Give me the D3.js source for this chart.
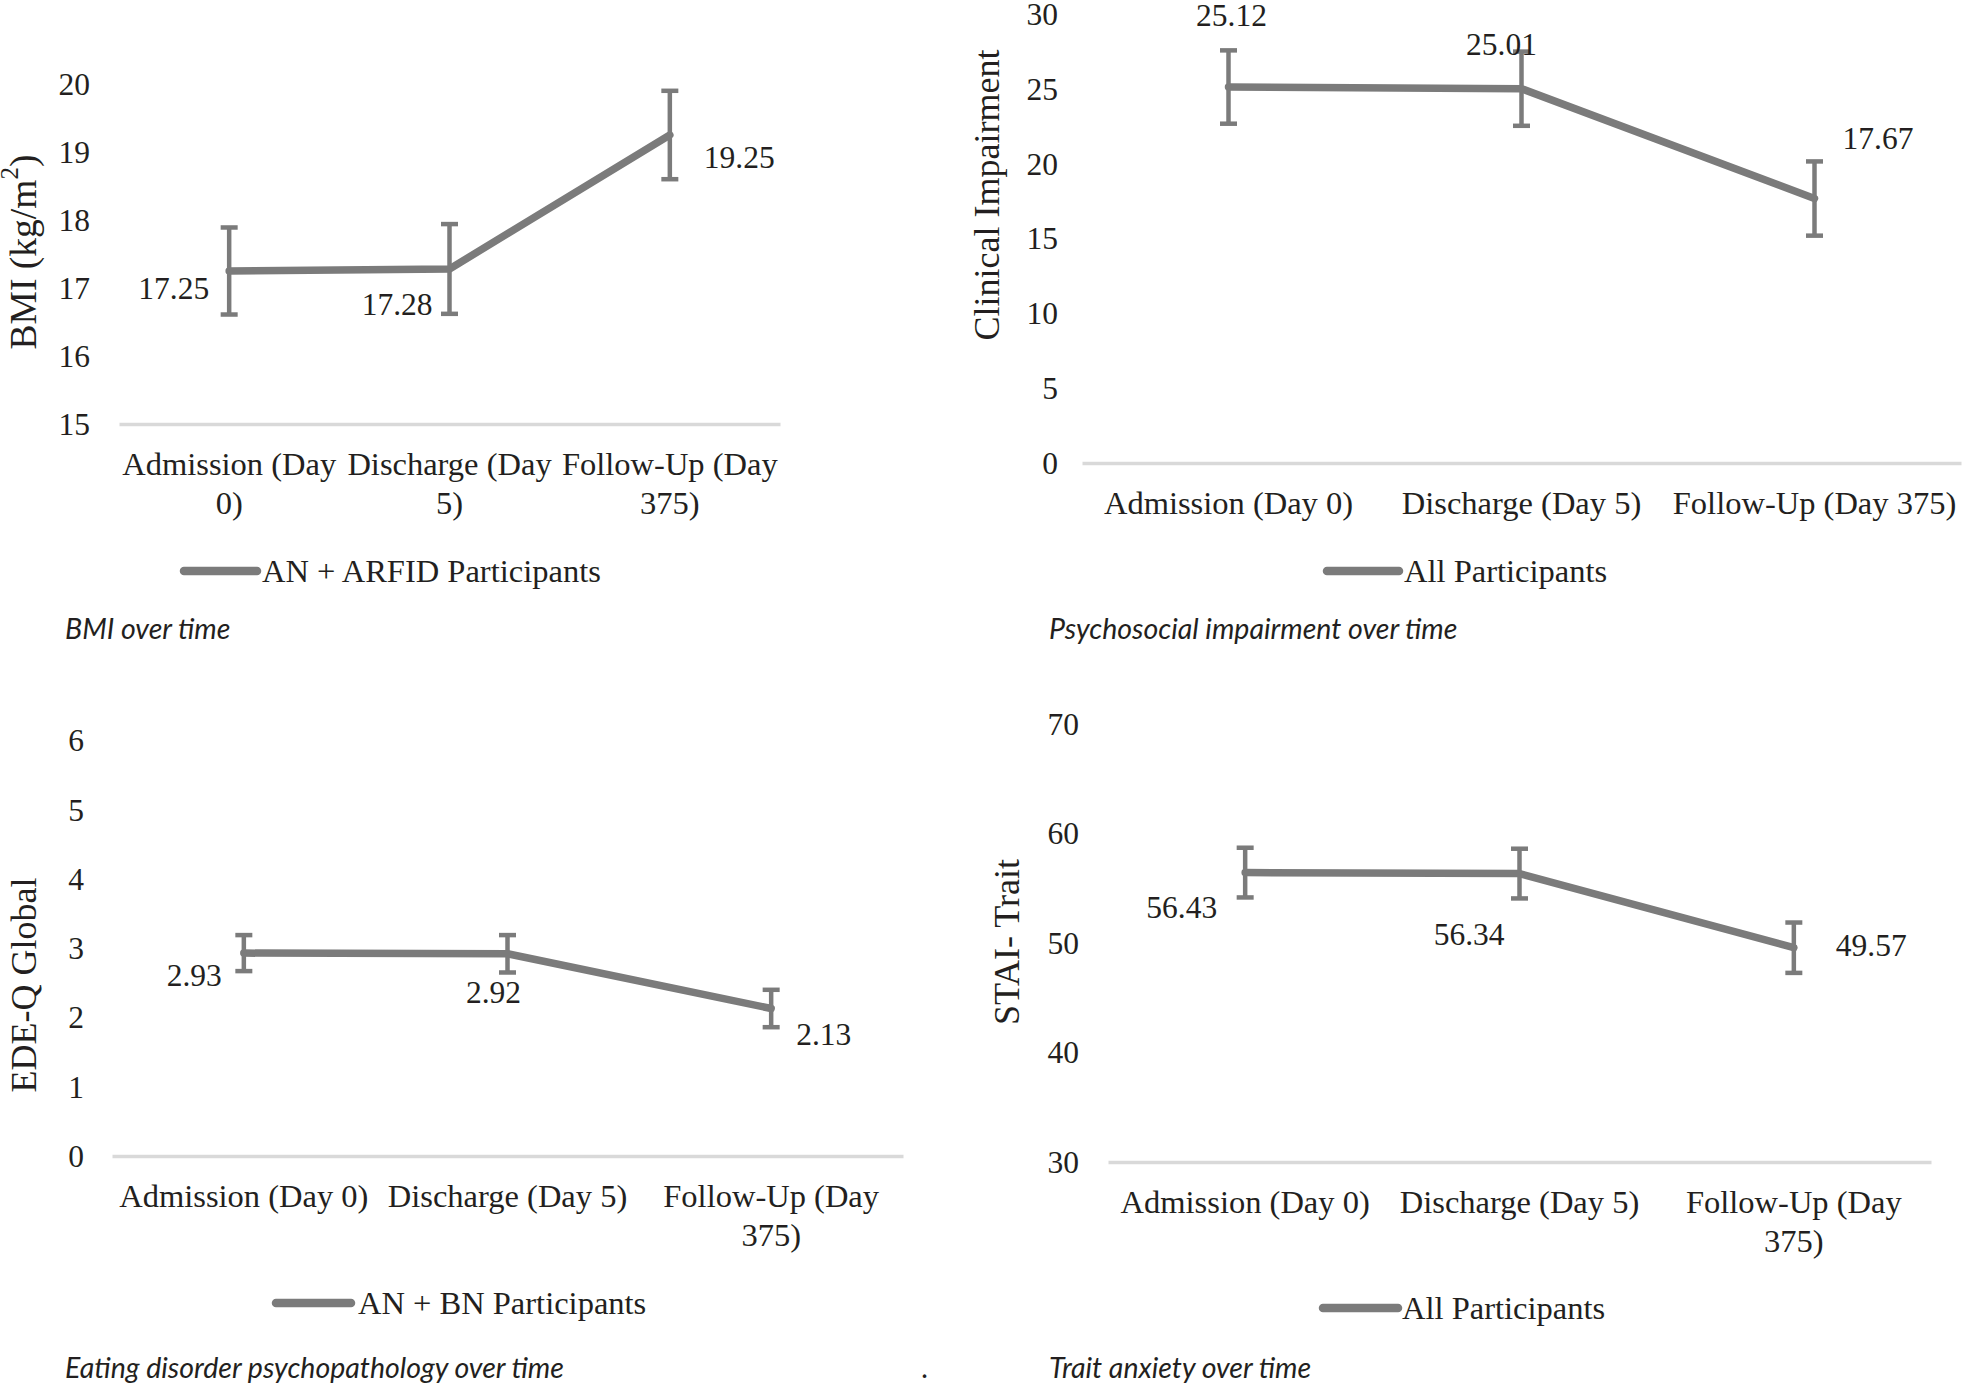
<!DOCTYPE html>
<html>
<head>
<meta charset="utf-8">
<script src="https://cdn.jsdelivr.net/npm/d3@7"></script>
<style>
  html, body { margin: 0; padding: 0; background: #ffffff; }
  svg { display: block; }
</style>
</head>
<body>
<svg id="chart" width="1968" height="1388"></svg>
<script>
// ---------------- DATA ----------------
const categories = ["Admission (Day 0)", "Discharge (Day 5)", "Follow-Up (Day 375)"];

const bmiValues = [17.25, 17.28, 19.25];
const bmiErrors = [0.64, 0.66, 0.65];
const bmiTicks = [15, 16, 17, 18, 19, 20];

const impairmentValues = [25.12, 25.01, 17.67];
const impairmentErrors = [2.45, 2.48, 2.48];
const impairmentTicks = [0, 5, 10, 15, 20, 25, 30];

const edeqValues = [2.93, 2.92, 2.13];
const edeqErrors = [0.26, 0.27, 0.27];
const edeqTicks = [0, 1, 2, 3, 4, 5, 6];

const staiValues = [56.43, 56.34, 49.57];
const staiErrors = [2.27, 2.27, 2.30];
const staiTicks = [30, 40, 50, 60, 70];

const yTitles = ["BMI (kg/m", "Clinical Impairment", "EDE-Q Global", "STAI- Trait"];
const legendLabels = ["AN + ARFID Participants", "All Participants", "AN + BN Participants", "All Participants"];
const captions = ["BMI over time", "Psychosocial impairment over time", "Eating disorder psychopathology over time", "Trait anxiety over time"];

// ---------------- LAYOUT ----------------
const layouts = [
  { box: {x0: 119, x1: 780, top: 84, bottom: 424}, tickRight: 90, title: [23, 252],
    legend: {x0: 184, x1: 257, y: 571, tx: 262}, caption: [65, 629],
    labels: [{a: "end", dx: -20, dy: 18}, {a: "end", dx: -17, dy: 36}, {a: "start", dx: 34, dy: 23}] },
  { box: {x0: 1082, x1: 1961, top: 14, bottom: 463}, tickRight: 1058, title: [987, 195],
    legend: {x0: 1327, x1: 1399, y: 571, tx: 1404}, caption: [1049, 629],
    labels: [{a: "middle", dx: 3, dy: -71}, {a: "middle", dx: -20, dy: -44}, {a: "start", dx: 28, dy: -60}] },
  { box: {x0: 112, x1: 903, top: 740.5, bottom: 1156}, tickRight: 84, title: [24, 985],
    legend: {x0: 276, x1: 351, y: 1303, tx: 358}, caption: [65, 1368],
    labels: [{a: "end", dx: -22, dy: 23}, {a: "middle", dx: -14, dy: 39}, {a: "start", dx: 25, dy: 26}] },
  { box: {x0: 1108, x1: 1931, top: 724, bottom: 1162}, tickRight: 1079, title: [1007, 942],
    legend: {x0: 1323, x1: 1398, y: 1308, tx: 1402}, caption: [1049, 1368],
    labels: [{a: "end", dx: -28, dy: 35}, {a: "end", dx: -15, dy: 61}, {a: "start", dx: 42, dy: -2}] }
];

const panelData = [
  {values: bmiValues, errors: bmiErrors, ticks: bmiTicks},
  {values: impairmentValues, errors: impairmentErrors, ticks: impairmentTicks},
  {values: edeqValues, errors: edeqErrors, ticks: edeqTicks},
  {values: staiValues, errors: staiErrors, ticks: staiTicks}
];

const TEXT = "#231f20";
const LINE = "#7b7b7b";
const GRID = "#d9d9d9";
const SERIF = "'Liberation Serif', 'Times New Roman', serif";
const CAPTION_FONT = "Lato, 'Open Sans', sans-serif";

const svg = d3.select("#chart");

function wrapText(textSel, width, lineH) {
  textSel.each(function() {
    const t = d3.select(this);
    const words = t.text().split(/\s+/);
    const x = t.attr("x") || 0;
    t.text(null);
    let line = [];
    let tspan = t.append("tspan").attr("x", x).attr("dy", "0.33em");
    words.forEach(w => {
      line.push(w);
      tspan.text(line.join(" "));
      if (tspan.node().getComputedTextLength() > width && line.length > 1) {
        line.pop();
        tspan.text(line.join(" "));
        line = [w];
        tspan = t.append("tspan").attr("x", x).attr("dy", lineH).text(w);
      }
    });
  });
}

panelData.forEach((pd, i) => {
  const L = layouts[i];
  const g = svg.append("g");

  const x = d3.scaleBand().domain(categories).range([L.box.x0, L.box.x1]).paddingInner(0).paddingOuter(0);
  const y = d3.scaleLinear().domain(d3.extent(pd.ticks)).range([L.box.bottom, L.box.top]);
  const cx = c => x(c) + x.bandwidth() / 2;

  // Y axis (labels only)
  const yAxis = g.append("g")
    .attr("transform", `translate(${L.tickRight},0)`)
    .call(d3.axisLeft(y).tickValues(pd.ticks).tickSize(0).tickPadding(0).tickFormat(d3.format("d")));
  yAxis.select(".domain").remove();
  yAxis.attr("font-family", SERIF).attr("font-size", 31.5);
  yAxis.selectAll("text")
    .attr("font-family", SERIF).attr("font-size", 31.5).attr("fill", TEXT)
    .attr("dy", "0.33em");

  // X axis: baseline + category labels
  const xAxis = g.append("g")
    .attr("transform", `translate(0,${L.box.bottom})`)
    .call(d3.axisBottom(x).tickSize(0).tickSizeOuter(0).tickPadding(0));
  xAxis.attr("font-family", SERIF).attr("font-size", 32.5);
  xAxis.select(".domain").attr("stroke", GRID).attr("stroke-width", 3.5);
  xAxis.selectAll("text")
    .attr("font-family", SERIF).attr("font-size", 32.5).attr("fill", TEXT)
    .attr("y", 40).attr("dy", null).attr("x", 0)
    .call(wrapText, x.bandwidth(), 39);

  // Y title
  const title = g.append("text")
    .attr("transform", `translate(${L.title[0]},${L.title[1]}) rotate(-90)`)
    .attr("text-anchor", "middle")
    .attr("dominant-baseline", "central")
    .attr("font-family", SERIF).attr("font-size", 36).attr("fill", TEXT);
  if (i === 0) {
    title.attr("font-size", 37.5);
    title.append("tspan").text(yTitles[i]);
    title.append("tspan").attr("font-size", 25).attr("dy", -14).text("2");
    title.append("tspan").attr("dy", 14).text(")");
  } else {
    title.text(yTitles[i]);
  }

  const pts = categories.map((c, k) => ({c, v: pd.values[k], e: pd.errors[k], k}));

  // Line
  const line = d3.line().x(d => cx(d.c)).y(d => y(d.v));
  g.append("path").datum(pts)
    .attr("d", line)
    .attr("fill", "none").attr("stroke", LINE).attr("stroke-width", 7.5)
    .attr("stroke-linecap", "round").attr("stroke-linejoin", "round");

  // Error bars
  const eb = g.append("g").selectAll("g").data(pts).join("g")
    .attr("stroke", LINE).attr("stroke-width", 4.5).attr("fill", "none");
  eb.append("line")
    .attr("x1", d => cx(d.c)).attr("x2", d => cx(d.c))
    .attr("y1", d => y(d.v + d.e)).attr("y2", d => y(d.v - d.e));
  eb.append("line")
    .attr("x1", d => cx(d.c) - 8.5).attr("x2", d => cx(d.c) + 8.5)
    .attr("y1", d => y(d.v + d.e)).attr("y2", d => y(d.v + d.e));
  eb.append("line")
    .attr("x1", d => cx(d.c) - 8.5).attr("x2", d => cx(d.c) + 8.5)
    .attr("y1", d => y(d.v - d.e)).attr("y2", d => y(d.v - d.e));

  // Data labels
  g.append("g").selectAll("text").data(pts).join("text")
    .attr("x", d => cx(d.c) + L.labels[d.k].dx)
    .attr("y", d => y(d.v) + L.labels[d.k].dy)
    .attr("text-anchor", d => L.labels[d.k].a)
    .attr("dy", "0.33em")
    .attr("font-family", SERIF).attr("font-size", 31.5).attr("fill", TEXT)
    .text(d => d3.format(".2f")(d.v));

  // Legend
  g.append("line")
    .attr("x1", L.legend.x0).attr("x2", L.legend.x1)
    .attr("y1", L.legend.y).attr("y2", L.legend.y)
    .attr("stroke", LINE).attr("stroke-width", 8.5).attr("stroke-linecap", "round");
  g.append("text")
    .attr("x", L.legend.tx).attr("y", L.legend.y).attr("dy", "0.33em")
    .attr("font-family", SERIF).attr("font-size", 32.5).attr("fill", TEXT)
    .text(legendLabels[i]);

  // Caption
  g.append("text")
    .attr("x", L.caption[0]).attr("y", L.caption[1]).attr("dy", "0.35em")
    .attr("font-family", CAPTION_FONT).attr("font-style", "italic")
    .attr("font-size", 28.5).attr("fill", TEXT)
    .text(captions[i]);
});

// stray period in the bottom caption row
svg.append("text")
  .attr("x", 922).attr("y", 1368).attr("dy", "0.35em")
  .attr("font-family", CAPTION_FONT).attr("font-style", "italic")
  .attr("font-size", 28.5).attr("fill", TEXT)
  .text(".");
</script>
</body>
</html>
